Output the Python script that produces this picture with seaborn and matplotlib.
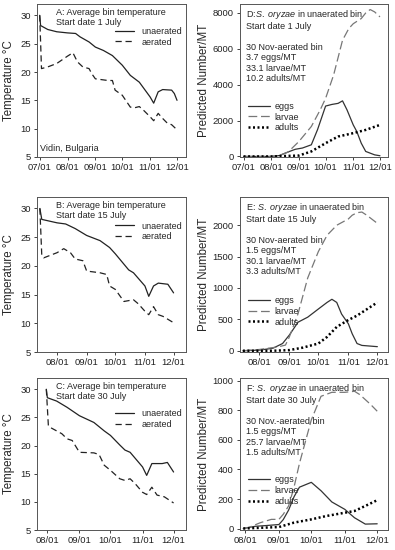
import pandas as pd
import matplotlib
matplotlib.use("Agg")
import matplotlib.pyplot as plt
import matplotlib.dates as mdates
import seaborn as sns

# --- temperature panels (A, B, C) ---
a_unaer_d = ["07-01", "07-02", "07-10", "07-20", "08-01", "08-10", "08-15", "08-25", "09-01", "09-10",
             "09-20", "10-01", "10-10", "10-15", "10-20", "11-01", "11-05", "11-10", "11-15", "11-25",
             "11-28", "12-01"]
a_unaer_t = [30.0, 28.2, 27.5, 27.1, 26.9, 26.8, 26.2, 25.3, 24.4, 23.8,
             22.9, 21.2, 19.4, 18.8, 18.2, 15.6, 14.5, 16.5, 16.9, 16.8,
             16.2, 15.0]
a_aer_d = ["07-01", "07-03", "07-10", "07-20", "08-01", "08-07", "08-12", "08-18", "08-25", "08-28",
           "09-01", "09-15", "09-20", "09-23", "10-01", "10-10", "10-15", "10-20", "10-25", "11-01",
           "11-05", "11-10", "11-15", "11-20", "11-25", "12-01"]
a_aer_t = [30.0, 20.6, 20.9, 21.5, 22.8, 23.4, 21.8, 20.9, 20.6, 19.7,
           18.8, 18.5, 18.5, 16.8, 15.9, 13.8, 13.7, 13.9, 13.2, 12.1,
           11.4, 12.7, 11.8, 11.0, 10.7, 9.8]

b_unaer_d = ["07-14", "07-16", "08-01", "08-10", "08-20", "09-01", "09-15", "09-25", "10-01", "10-10",
             "10-15", "10-20", "11-01", "11-05", "11-10", "11-15", "11-25", "12-01"]
b_unaer_t = [30.0, 28.1, 27.5, 27.3, 26.5, 25.3, 24.4, 23.2, 22.1, 20.3,
             19.3, 18.8, 16.5, 14.7, 16.5, 17.0, 16.8, 15.3]
b_aer_d = ["07-14", "07-16", "07-18", "08-01", "08-08", "08-15", "08-20", "08-28", "09-01", "09-15",
           "09-22", "09-25", "10-01", "10-10", "10-20", "10-25", "11-01", "11-05", "11-10", "11-15",
           "11-20", "12-01"]
b_aer_t = [30.0, 21.8, 21.4, 22.3, 23.0, 22.3, 21.2, 20.9, 19.1, 18.8,
           18.5, 16.5, 15.9, 13.8, 14.1, 13.4, 12.1, 11.5, 12.9, 11.5,
           11.2, 10.1]

c_unaer_d = ["07-31", "08-01", "08-10", "08-20", "09-01", "09-15", "09-25", "10-01", "10-10", "10-15",
             "10-20", "11-01", "11-05", "11-10", "11-20", "11-25", "12-01"]
c_unaer_t = [30.0, 28.5, 27.9, 26.8, 25.3, 24.1, 22.6, 21.8, 20.1, 19.2,
             18.8, 16.2, 14.7, 16.8, 16.8, 17.0, 15.3]
c_aer_d = ["07-31", "08-02", "08-05", "08-10", "08-15", "08-20", "08-25", "08-28", "09-01", "09-15",
           "09-20", "09-25", "10-01", "10-10", "10-15", "10-20", "10-25", "11-01", "11-05", "11-10",
           "11-15", "11-22", "12-01"]
c_aer_t = [30.0, 23.5, 23.1, 22.6, 22.1, 21.2, 20.9, 20.0, 18.8, 18.7,
           18.4, 16.5, 15.6, 14.1, 13.8, 14.1, 13.2, 11.7, 11.3, 12.6,
           11.2, 10.9, 9.8]

# --- insect panels (D, E, F) ---
d_eggs_d = ["07-01", "08-01", "08-10", "08-20", "08-28", "09-05", "09-15", "09-22", "10-01", "10-08",
            "10-15", "10-20", "10-25", "11-01", "11-05", "11-10", "11-15", "11-25", "12-01"]
d_eggs = [0, 0, 50, 250, 400, 470, 650, 1500, 2810, 2900,
          2960, 3100, 2600, 1760, 1390, 740, 280, 90, 40]
d_larv_d = ["07-01", "08-01", "08-10", "08-20", "09-01", "09-15", "09-25", "10-01", "10-10", "10-20",
            "10-27", "11-01", "11-10", "11-15", "11-20", "11-25", "12-01"]
d_larv = [0, 0, 50, 250, 830, 1670, 2600, 3240, 4540, 6480,
          7130, 7400, 7690, 8000, 8190, 8060, 7780]
d_adul_d = ["07-01", "08-01", "09-01", "09-15", "10-01", "10-15", "11-01", "11-15", "12-01"]
d_adul = [0, 0, 50, 280, 740, 1110, 1300, 1480, 1760]

e_eggs_d = ["07-15", "08-01", "08-15", "08-25", "09-01", "09-10", "09-20", "10-01", "10-10", "10-15",
            "10-20", "10-25", "11-01", "11-05", "11-10", "11-15", "12-01"]
e_eggs = [0, 10, 40, 115, 250, 455, 535, 665, 770, 820,
          770, 585, 430, 270, 115, 85, 65]
e_larv_d = ["07-15", "08-01", "08-10", "08-20", "08-28", "09-01", "09-10", "09-20", "10-01", "10-10",
            "10-20", "11-01", "11-05", "11-10", "11-15", "11-20", "12-01"]
e_larv = [0, 20, 40, 60, 90, 220, 590, 1160, 1580, 1840,
          2000, 2100, 2160, 2200, 2210, 2160, 2030]
e_adul_d = ["07-15", "08-15", "09-01", "09-15", "10-01", "10-10", "10-20", "11-01", "11-10", "11-20",
            "12-01"]
e_adul = [0, 0, 10, 50, 115, 220, 380, 490, 560, 660, 770]

f_eggs_d = ["07-30", "08-10", "08-20", "09-01", "09-05", "09-10", "09-15", "09-20", "10-01", "10-10",
            "10-20", "11-01", "11-10", "11-20", "12-01"]
f_eggs = [0, 15, 20, 27, 60, 125, 215, 280, 313, 256,
          180, 130, 73, 30, 32]
f_larv_d = ["07-30", "08-05", "08-15", "08-25", "09-01", "09-05", "09-10", "09-15", "09-20", "10-01",
            "10-10", "10-20", "11-01", "11-10", "11-15", "11-25", "12-01"]
f_larv = [0, 10, 40, 62, 62, 96, 153, 280, 440, 736,
          896, 923, 923, 930, 907, 840, 795]
f_adul_d = ["07-30", "09-01", "09-15", "10-01", "10-15", "11-01", "11-10", "11-20", "12-01"]
f_adul = [0, 10, 40, 62, 85, 107, 119, 153, 192]


def to_dates(days):
    return pd.to_datetime(["2012-" + d for d in days])


sns.set_style("ticks")
plt.rcParams["font.family"] = ["Liberation Sans", "DejaVu Sans"]
plt.rcParams["mathtext.fontset"] = "custom"
plt.rcParams["mathtext.rm"] = "Liberation Sans"
plt.rcParams["mathtext.it"] = "Liberation Sans:italic"

TXT = 6.5
fig = plt.figure(figsize=(3.95, 5.5), dpi=100)

W, H = 395, 550
rows = [(4, 157), (197, 352), (378, 530)]
cols = [(37, 186), (240, 388)]


def make_ax(col, row):
    x0, x1 = cols[col]
    t, b = rows[row]
    return fig.add_axes([x0 / W, 1 - b / H, (x1 - x0) / W, (b - t) / H])


def style_ax(ax, xlim, ticks, ylim, yticks):
    ax.set_xlim(pd.Timestamp("2012-" + xlim[0]), pd.Timestamp("2012-" + xlim[1]))
    ax.set_xticks(to_dates(ticks))
    ax.xaxis.set_major_formatter(mdates.DateFormatter("%m/%d"))
    ax.set_ylim(*ylim)
    ax.set_yticks(yticks)
    ax.tick_params(labelsize=6.8, length=2.5, width=0.6, pad=2, colors="#222222")
    for s in ax.spines.values():
        s.set_linewidth(0.7)
        s.set_color("#555555")
        s.set_visible(True)
    ax.set_xlabel("")


temp_panels = [
    (a_unaer_d, a_unaer_t, a_aer_d, a_aer_t, "A: Average bin temperature\nStart date 1 July",
     ("06-28", "12-11"), ["07-01", "08-01", "09-01", "10-01", "11-01", "12-01"], 0.875),
    (b_unaer_d, b_unaer_t, b_aer_d, b_aer_t, "B: Average bin temperature\nStart date 15 July",
     ("07-11", "12-14"), ["08-01", "09-01", "10-01", "11-01", "12-01"], 0.865),
    (c_unaer_d, c_unaer_t, c_aer_d, c_aer_t, "C: Average bin temperature\nStart date 30 July",
     ("07-22", "12-13"), ["08-01", "09-01", "10-01", "11-01", "12-01"], 0.82),
]

for i, (ud, ut, ad, at, title, xlim, ticks, leg_y) in enumerate(temp_panels):
    ax = make_ax(0, i)
    sns.lineplot(x=to_dates(ud), y=ut, ax=ax, color="#222222", lw=0.9, label="unaerated")
    sns.lineplot(x=to_dates(ad), y=at, ax=ax, color="#222222", lw=0.9, label="aerated",
                 linestyle=(0, (5, 3)))
    style_ax(ax, xlim, ticks, (5, 32), [5, 10, 15, 20, 25, 30])
    ax.set_ylabel("Temperature °C", fontsize=8.3)
    ax.yaxis.set_label_coords(-0.145, 0.5)
    ax.text(0.13, 0.975, title, transform=ax.transAxes, fontsize=TXT, va="top", linespacing=1.2)
    ax.legend(frameon=False, fontsize=TXT, loc="upper right", bbox_to_anchor=(1.0, leg_y),
              handlelength=2.0, handletextpad=0.9, labelspacing=0.2, borderaxespad=0)
    if i == 0:
        ax.text(0.02, 0.04, "Vidin, Bulgaria", transform=ax.transAxes, fontsize=TXT)

insect_panels = [
    (d_eggs_d, d_eggs, d_larv_d, d_larv, d_adul_d, d_adul,
     "D:$\\it{S.\\ oryzae}$ in unaerated bin\nStart date 1 July\n\n30 Nov-aerated bin\n"
     "3.7 eggs/MT\n33.1 larvae/MT\n10.2 adults/MT",
     ("06-27", "12-10"), ["07-01", "08-01", "09-01", "10-01", "11-01", "12-01"],
     (-30, 8500), [0, 2000, 4000, 6000, 8000]),
    (e_eggs_d, e_eggs, e_larv_d, e_larv, e_adul_d, e_adul,
     "E: $\\it{S.\\ oryzae}$ in unaerated bin\nStart date 15 July\n\n30 Nov-aerated bin\n"
     "1.5 eggs/MT\n30.1 larvae/MT\n3.3 adults/MT",
     ("07-12", "12-12"), ["08-01", "09-01", "10-01", "11-01", "12-01"],
     (-20, 2450), [0, 500, 1000, 1500, 2000]),
    (f_eggs_d, f_eggs, f_larv_d, f_larv, f_adul_d, f_adul,
     "F: $\\it{S.\\ oryzae}$ in unaerated bin\nStart date 30 July\n\n30 Nov.-aerated bin\n"
     "1.5 eggs/MT\n25.7 larvae/MT\n1.5 adults/MT",
     ("07-27", "12-11"), ["08-01", "09-01", "10-01", "11-01", "12-01"],
     (-10, 1020), [0, 200, 400, 600, 800, 1000]),
]

for i, (ed, ev, ld, lv, add, av, note, xlim, ticks, ylim, yticks) in enumerate(insect_panels):
    ax = make_ax(1, i)
    sns.lineplot(x=to_dates(ed), y=ev, ax=ax, color="#333333", lw=0.9, label="eggs")
    sns.lineplot(x=to_dates(ld), y=lv, ax=ax, color="#777777", lw=0.9, label="larvae",
                 linestyle=(0, (7, 3)))
    sns.lineplot(x=to_dates(add), y=av, ax=ax, color="#000000", lw=1.8, label="adults",
                 linestyle=(0, (0.8, 1.0)))
    style_ax(ax, xlim, ticks, ylim, yticks)
    ax.set_ylabel("Predicted Number/MT", fontsize=8.3)
    ax.yaxis.set_label_coords(-0.2, 0.5)
    ax.text(0.04, 0.975, note, transform=ax.transAxes, fontsize=TXT, va="top", linespacing=1.2)
    ax.legend(frameon=False, fontsize=TXT, loc="upper left", bbox_to_anchor=(0.03, 0.385),
              handlelength=2.4, handletextpad=0.5, labelspacing=0.2, borderaxespad=0)

fig.savefig("out.png", dpi=100)
plt.close(fig)
